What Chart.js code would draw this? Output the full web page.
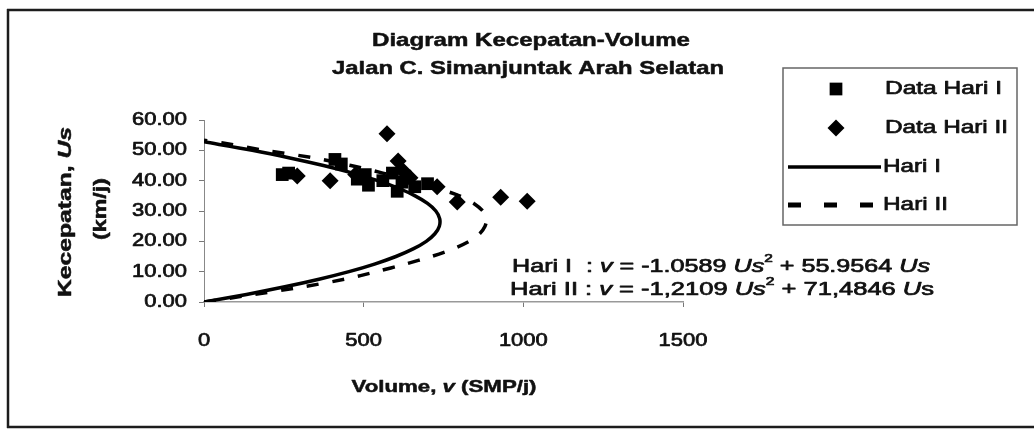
<!DOCTYPE html>
<html>
<head>
<meta charset="utf-8">
<script src="https://cdn.jsdelivr.net/npm/chart.js@4.4.1/dist/chart.umd.min.js"></script>
<style>
  html, body { margin: 0; padding: 0; background: #fff; }
  #wrap { width: 1034px; height: 430px; }
</style>
</head>
<body>
<div id="wrap"><canvas id="grafik" width="1034" height="430"></canvas></div>
<script>
// ── Data titik pengamatan (volume v, kecepatan Us) ──
const volData1 = [245, 265, 410, 430, 480, 505, 515, 560, 590, 605, 620, 660, 700];
const kecData1 = [42, 42.5, 47, 45.5, 40.5, 42, 38.5, 40, 42.5, 36.5, 39.5, 38, 39];
const volData2 = [292, 395, 475, 573, 608, 625, 645, 730, 793, 929, 1012];
const kecData2 = [41.5, 40, 42, 55.5, 46.5, 43, 41, 38, 33, 34.5, 33.2];

// ── Kurva (dibaca dari garis pada gambar) ──
const kecKurva1 = [0, 2.5, 5, 7.5, 10, 12.5, 15, 17.5, 20, 22.5, 25, 27.5, 30, 32.5, 35, 37.5, 40, 42.5, 45, 47.5, 50, 52.8];
const volKurva1 = [0, 133, 253, 360, 454, 534, 601, 655, 696, 723, 737, 738, 726, 700, 661, 609, 544, 466, 374, 269, 151, 0];
const kecKurva2 = [0, 2.5, 5, 7.5, 10, 12.5, 15, 17.5, 20, 22.5, 25, 27.5, 30, 32.5, 35, 37.5, 40, 42.5, 45, 47.5, 50, 52.5, 53.3];
const volKurva2 = [0, 158, 310, 440, 540, 630, 712, 780, 830, 863, 880, 885, 873, 845, 800, 730, 645, 560, 460, 345, 190, 55, 0];

// ── Sumbu ──
const xTickVals   = [0, 500, 1000, 1500];
const xTickLabels = ['0', '500', '1000', '1500'];
const yTickVals   = [0, 10, 20, 30, 40, 50, 60];
const yTickLabels = ['0.00', '10.00', '20.00', '30.00', '40.00', '50.00', '60.00'];
const seriesNames = ['Data Hari I', 'Data Hari II', 'Hari I', 'Hari II'];

const FONT = '"Liberation Sans", Arial, sans-serif';
const pasang = (xs, ys) => xs.map((x, i) => ({ x: x, y: ys[i] }));
const R = (t, i, sup) => ({ t: t, i: !!i, sup: !!sup });

// teks dengan bagian miring / pangkat, direntang sepanjang garis dasar
function tulis(ctx, runs, x, y, o) {
    runs = runs.map(r => typeof r === 'string' ? R(r) : Object.assign({}, r));
    const w8 = o.bold ? 'bold ' : '';
    const fontOf = r => (r.i ? 'italic ' : '') + w8 + (r.sup ? Math.round(o.size * 0.62) : o.size) + 'px ' + FONT;
    let nat = 0;
    runs.forEach(r => { ctx.font = fontOf(r); r.w = ctx.measureText(r.t).width; nat += r.w; });
    const sx = o.width ? o.width / nat : (o.sx || 1);
    ctx.save();
    ctx.translate(x, y);
    if (o.rot) ctx.rotate(o.rot);
    ctx.scale(sx, 1);
    let cx = o.align === 'center' ? -nat / 2 : o.align === 'right' ? -nat : 0;
    ctx.fillStyle = '#111';
    ctx.strokeStyle = '#111';
    ctx.lineWidth = o.bold ? 0.5 : 0.7;   // tinta pindaian agak tebal
    ctx.lineJoin = 'round';
    ctx.textBaseline = 'middle';
    ctx.textAlign = 'left';
    runs.forEach(r => {
        ctx.font = fontOf(r);
        const ty = r.sup ? -o.size * 0.42 : 0;
        ctx.fillText(r.t, cx, ty);
        ctx.strokeText(r.t, cx, ty);
        cx += r.w;
    });
    ctx.restore();
}

// ── Latar & bingkai hasil pindaian ──
const bingkai = {
    id: 'bingkai',
    beforeDraw(chart) {
        const ctx = chart.ctx;
        ctx.save();
        ctx.fillStyle = '#fff';
        ctx.fillRect(0, 0, chart.width, chart.height);
        ctx.strokeStyle = '#1c1c1c';
        ctx.lineWidth = 2.5;
        ctx.beginPath();
        ctx.moveTo(7, 10); ctx.lineTo(chart.width, 10);
        ctx.moveTo(8, 9); ctx.lineTo(8, 428);
        ctx.moveTo(7, 427); ctx.lineTo(chart.width, 427);
        ctx.stroke();
        ctx.restore();
    }
};

// ── Judul, label sumbu, persamaan ──
const teks = {
    id: 'teks',
    afterDraw(chart) {
        const ctx = chart.ctx;
        const xs = chart.scales.x, ys = chart.scales.y;

        tulis(ctx, ['Diagram Kecepatan-Volume'], 531, 41, { size: 19, bold: true, align: 'center', width: 318 });
        tulis(ctx, ['Jalan C. Simanjuntak Arah Selatan'], 528, 69, { size: 19, bold: true, align: 'center', width: 392 });

        ys.ticks.forEach(t => {
            tulis(ctx, [t.label], 187, ys.getPixelForValue(t.value), { size: 18, align: 'right', sx: 1.22 });
        });
        xs.ticks.forEach(t => {
            tulis(ctx, [t.label], xs.getPixelForValue(t.value), 341, { size: 18, align: 'center', sx: 1.22 });
        });

        tulis(ctx, ['Volume, ', R('v', 1), ' (SMP/j)'], 444, 387, { size: 17, bold: true, align: 'center', width: 185 });
        tulis(ctx, ['Kecepatan, ', R('Us', 1)], 66, 212, { size: 18, bold: true, align: 'center', width: 170, rot: -Math.PI / 2 });
        tulis(ctx, ['(km/j)'], 101, 209, { size: 18, bold: true, align: 'center', width: 62, rot: -Math.PI / 2 });

        tulis(ctx, ['Hari I  : ', R('v', 1), ' = -1.0589 ', R('Us', 1), R('2', 0, 1), ' + 55.9564 ', R('Us', 1)],
              512, 267, { size: 18, width: 418 });
        tulis(ctx, ['Hari II : ', R('v', 1), ' = -1,2109 ', R('Us', 1), R('2', 0, 1), ' + 71,4846 ', R('U', 1), 's'],
              510, 290, { size: 18, width: 424 });
    }
};

// ── Legenda dalam kotak ──
const legenda = {
    id: 'legenda',
    afterDatasetsDraw(chart) {
        const ctx = chart.ctx;
        const barisY = [89, 128, 167, 205];
        const lebar = [117, 123, 58, 65];
        ctx.save();
        ctx.strokeStyle = '#666';
        ctx.lineWidth = 1.5;
        ctx.strokeRect(783, 68, 234, 157);
        chart.data.datasets.forEach((ds, i) => {
            const y = barisY[i];
            ctx.fillStyle = '#000';
            ctx.strokeStyle = '#000';
            if (ds.showLine) {
                ctx.setLineDash(i === 3 ? [13, 23] : []);
                ctx.lineWidth = i === 3 ? 5 : ds.borderWidth;
                ctx.beginPath();
                ctx.moveTo(788, y); ctx.lineTo(881, y);
                ctx.stroke();
                ctx.setLineDash([]);
                tulis(ctx, [ds.label], 883, y, { size: 18, width: lebar[i] });
            } else {
                const r = ds.pointRadius;
                ctx.beginPath();
                if (ds.pointStyle === 'rect') {
                    const s = r * Math.SQRT1_2;
                    ctx.rect(836 - s, y - s, 2 * s, 2 * s);
                } else {
                    ctx.moveTo(836, y - r); ctx.lineTo(836 + r, y);
                    ctx.lineTo(836, y + r); ctx.lineTo(836 - r, y);
                    ctx.closePath();
                }
                ctx.fill();
                tulis(ctx, [ds.label], 885, y, { size: 18, width: lebar[i] });
            }
        });
        ctx.restore();
    }
};

const gridAxis = len => ({ display: true, drawOnChartArea: false, drawTicks: true, tickLength: len, color: '#777', lineWidth: 1 });

new Chart(document.getElementById('grafik').getContext('2d'), {
    type: 'scatter',
    data: {
        datasets: [
            { label: seriesNames[0], data: pasang(volData1, kecData1), pointStyle: 'rect', pointRadius: 9,
              backgroundColor: '#000', borderWidth: 0 },
            { label: seriesNames[1], data: pasang(volData2, kecData2), pointStyle: 'rectRot', pointRadius: 8.5,
              backgroundColor: '#000', borderWidth: 0 },
            { label: seriesNames[2], data: pasang(volKurva1, kecKurva1), showLine: true, pointRadius: 0,
              borderColor: '#000', borderWidth: 3.5, tension: 0.3 },
            { label: seriesNames[3], data: pasang(volKurva2, kecKurva2), showLine: true, pointRadius: 0,
              borderColor: '#000', borderWidth: 3.5, borderDash: [12, 14], tension: 0.3 }
        ]
    },
    options: {
        responsive: false,
        devicePixelRatio: 1,
        animation: false,
        events: [],
        layout: { padding: { left: 199, right: 351, top: 120, bottom: 123 } },
        plugins: { legend: { display: false }, title: { display: false }, tooltip: { enabled: false } },
        scales: {
            x: {
                type: 'linear', min: 0, max: 1500,
                afterBuildTicks: s => { s.ticks = xTickVals.map(v => ({ value: v })); },
                ticks: { display: false, callback: v => xTickLabels[xTickVals.indexOf(v)] },
                grid: gridAxis(5),
                border: { display: true, color: '#999', width: 1.5 }
            },
            y: {
                type: 'linear', min: 0, max: 60,
                afterBuildTicks: s => { s.ticks = yTickVals.map(v => ({ value: v })); },
                ticks: { display: false, callback: v => yTickLabels[yTickVals.indexOf(v)] },
                grid: gridAxis(5),
                border: { display: true, color: '#888', width: 1 }
            }
        }
    },
    plugins: [bingkai, legenda, teks]
});
</script>
</body>
</html>
